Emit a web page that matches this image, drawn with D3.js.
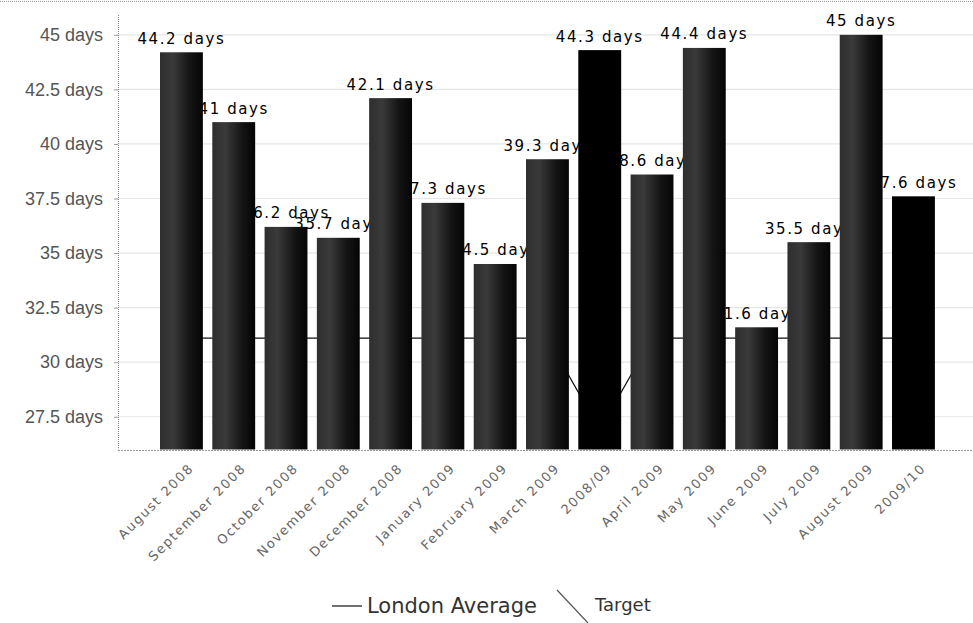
<!DOCTYPE html>
<html>
<head>
<meta charset="utf-8">
<script src="https://cdn.jsdelivr.net/npm/d3@7"></script>
<style>
  html, body { margin: 0; padding: 0; background: #fff; }
  svg { display: block; font-family: "DejaVu Sans", Verdana, sans-serif; }
</style>
</head>
<body>
<svg id="chart" width="973" height="623"></svg>
<script>
// Average days per period, with the London average line
const categories = ["August 2008", "September 2008", "October 2008", "November 2008",
  "December 2008", "January 2009", "February 2009", "March 2009", "2008/09",
  "April 2009", "May 2009", "June 2009", "July 2009", "August 2009", "2009/10"];
const daysValues = [44.2, 41, 36.2, 35.7, 42.1, 37.3, 34.5, 39.3, 44.3, 38.6, 44.4, 31.6, 35.5, 45, 37.6];
const londonAverage = [31.1, 31.1, 31.1, 31.1, 31.1, 31.1, 31.1, 31.1, 26.9, 31.1, 31.1, 31.1, 31.1, 31.1, 31.1];
const yTicks = [27.5, 30, 32.5, 35, 37.5, 40, 42.5, 45];
const legendLabels = ["London Average", "Target"];

const svg = d3.select("#chart");
const W = 973;
const plotLeft = 118, plotRight = 973, plotTop = 13, plotBottom = 449.5;

const y = d3.scaleLinear().domain([26, 46]).range([plotBottom, plotTop]);
const x = d3.scaleBand().domain(categories).range([155.3, 939.6])
  .paddingInner(0.18).paddingOuter(0.09);

// bar shading: lighter on the left, fading to black on the right
const defs = svg.append("defs");
const grad = defs.append("linearGradient").attr("id", "barShade")
  .attr("x1", "0").attr("x2", "1").attr("y1", "0").attr("y2", "0");
grad.append("stop").attr("offset", "0").attr("stop-color", "#2e2e2e");
grad.append("stop").attr("offset", "0.3").attr("stop-color", "#3a3a3a");
grad.append("stop").attr("offset", "0.7").attr("stop-color", "#141414");
grad.append("stop").attr("offset", "1").attr("stop-color", "#050505");

// top frame line
svg.append("line").attr("x1", 0).attr("x2", W).attr("y1", 1.5).attr("y2", 1.5)
  .attr("stroke", "#999").attr("stroke-dasharray", "1,1");

// horizontal gridlines
svg.append("g").selectAll("line").data(yTicks).join("line")
  .attr("x1", plotLeft).attr("x2", plotRight)
  .attr("y1", d => y(d)).attr("y2", d => y(d))
  .attr("stroke", "#e6e6e6").attr("stroke-width", 1.2);

// y axis
const yAxis = svg.append("g").attr("transform", `translate(${plotLeft},0)`)
  .call(d3.axisLeft(y).tickValues(yTicks).tickSize(4).tickPadding(11)
    .tickFormat(d => `${d} days`));
yAxis.select(".domain").attr("stroke", "#888").attr("stroke-dasharray", "1,1")
  .attr("d", `M0.5,${plotTop + 2}V${plotBottom}`);
yAxis.selectAll(".tick line").attr("stroke", "#999");
yAxis.selectAll(".tick text").attr("fill", "#555").style("font-size", "18px");

// bottom axis line
svg.append("line").attr("x1", plotLeft).attr("x2", plotRight)
  .attr("y1", plotBottom + 1).attr("y2", plotBottom + 1)
  .attr("stroke", "#999").attr("stroke-dasharray", "2,1");

// London average line (sits behind the bars)
const line = d3.line().x((d, i) => x(categories[i]) + x.bandwidth() / 2).y(d => y(d));
svg.append("path").datum(londonAverage).attr("d", line)
  .attr("fill", "none").attr("stroke", "#111").attr("stroke-width", 1.2);

// value labels (drawn before the bars so neighbouring bars overlap them)
svg.append("g").selectAll("text").data(daysValues).join("text")
  .attr("x", (d, i) => x(categories[i]) + x.bandwidth() / 2)
  .attr("y", d => y(d) - 8.5)
  .attr("text-anchor", "middle")
  .style("font-size", "15px").style("letter-spacing", "1.6px")
  .attr("fill", "#000")
  .text(d => `${d} days`);

// bars
svg.append("g").selectAll("rect").data(daysValues).join("rect")
  .attr("x", (d, i) => x(categories[i]))
  .attr("width", x.bandwidth())
  .attr("y", d => y(d))
  .attr("height", d => plotBottom - y(d))
  .attr("fill", (d, i) => categories[i].includes("/") ? "#000" : "url(#barShade)");

// rotated category labels
svg.append("g").selectAll("text").data(categories).join("text")
  .attr("transform", d => `translate(${x(d) + x.bandwidth() / 2 + 13},${469}) rotate(-45)`)
  .attr("text-anchor", "end")
  .style("font-size", "13px").style("letter-spacing", "1.6px")
  .attr("fill", "#666")
  .text(d => d);

// legend
const lg = svg.append("g");
lg.append("line").attr("x1", 332).attr("x2", 362).attr("y1", 606).attr("y2", 606)
  .attr("stroke", "#111").attr("stroke-width", 1.2);
lg.append("text").attr("x", 367).attr("y", 613).style("font-size", "21px")
  .attr("fill", "#333").text(legendLabels[0]);
lg.append("line").attr("x1", 557).attr("x2", 588).attr("y1", 590).attr("y2", 623)
  .attr("stroke", "#555").attr("stroke-width", 1.2);
lg.append("text").attr("x", 595).attr("y", 611).style("font-size", "18px")
  .attr("fill", "#333").text(legendLabels[1]);
</script>
</body>
</html>
